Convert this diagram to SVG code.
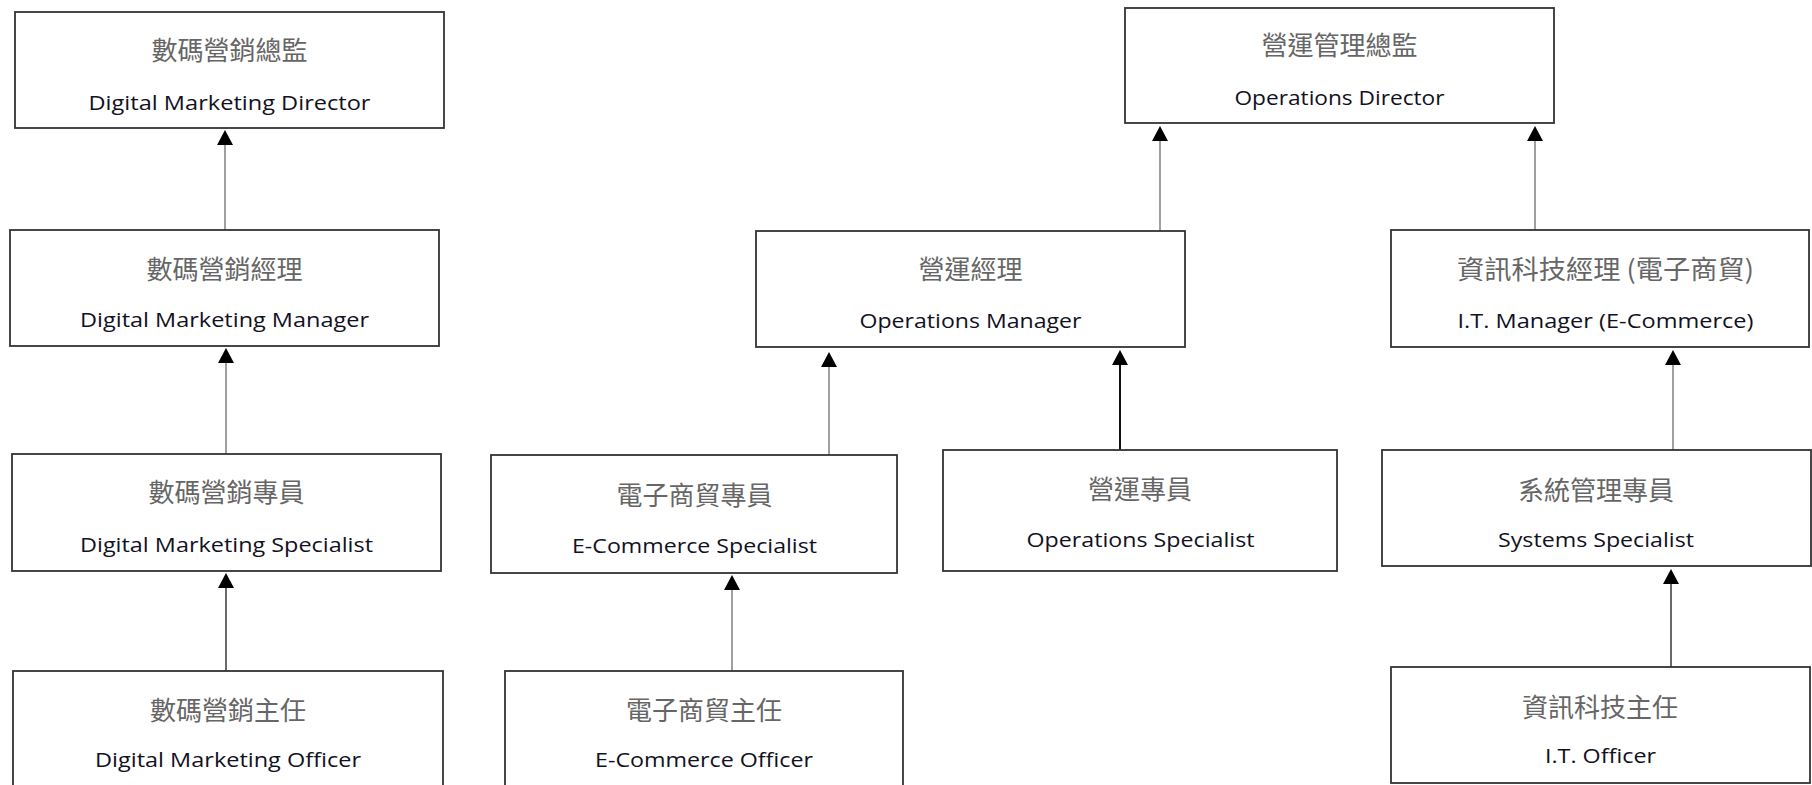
<svg xmlns="http://www.w3.org/2000/svg" width="1812" height="785" viewBox="0 0 1812 785">
<style>
.box{fill:#ffffff;stroke:#333333;stroke-width:1.8}
.zh{font-family:"Noto Sans CJK TC","Noto Sans CJK SC",sans-serif;font-size:26px;fill:#666666;text-anchor:middle;dominant-baseline:central}
.en{font-family:"Open Sans","Liberation Sans",sans-serif;font-size:20px;fill:#111122;text-anchor:middle}
.c{fill:none;stroke-width:1.6}
.g{stroke:#888888}
.d{stroke:#444444}
.k{stroke:#111111;stroke-width:2}
</style>
<defs>
<marker id="ah" markerUnits="userSpaceOnUse" markerWidth="16" markerHeight="16" viewBox="0 0 15 16" refX="0" refY="8" orient="auto">
<path d="M0,0 L15,8 L0,16 z" fill="#000000"/>
</marker>
</defs>
<rect width="1812" height="785" fill="#ffffff"/>
<g id="connectors">
<line class="c g" x1="225" y1="230" x2="225" y2="145" marker-end="url(#ah)"/>
<line class="c g" x1="226" y1="454" x2="226" y2="363" marker-end="url(#ah)"/>
<line class="c d" x1="226" y1="671" x2="226" y2="588" marker-end="url(#ah)"/>
<line class="c g" x1="1160" y1="231" x2="1160" y2="141" marker-end="url(#ah)"/>
<line class="c g" x1="1535" y1="230" x2="1535" y2="141" marker-end="url(#ah)"/>
<line class="c g" x1="829" y1="455" x2="829" y2="367" marker-end="url(#ah)"/>
<line class="c k" x1="1120" y1="450" x2="1120" y2="365" marker-end="url(#ah)"/>
<line class="c g" x1="732" y1="671" x2="732" y2="590" marker-end="url(#ah)"/>
<line class="c g" x1="1673" y1="450" x2="1673" y2="365" marker-end="url(#ah)"/>
<line class="c d" x1="1671" y1="667" x2="1671" y2="584" marker-end="url(#ah)"/>
</g>
<g id="dm_director">
<rect class="box" x="15" y="12" width="429" height="116"/>
<text class="zh" x="229.5" y="48">數碼營銷總監</text>
<text class="en" x="229.5" y="110" textLength="282" lengthAdjust="spacingAndGlyphs">Digital Marketing Director</text>
</g>
<g id="dm_manager">
<rect class="box" x="10" y="230" width="429" height="116"/>
<text class="zh" x="224.5" y="267">數碼營銷經理</text>
<text class="en" x="224.5" y="327" textLength="289" lengthAdjust="spacingAndGlyphs">Digital Marketing Manager</text>
</g>
<g id="dm_specialist">
<rect class="box" x="12" y="454" width="429" height="117"/>
<text class="zh" x="226.5" y="490">數碼營銷專員</text>
<text class="en" x="226.5" y="552" textLength="293" lengthAdjust="spacingAndGlyphs">Digital Marketing Specialist</text>
</g>
<g id="dm_officer">
<rect class="box" x="13" y="671" width="430" height="130"/>
<text class="zh" x="228" y="708">數碼營銷主任</text>
<text class="en" x="228" y="767" textLength="266" lengthAdjust="spacingAndGlyphs">Digital Marketing Officer</text>
</g>
<g id="ops_director">
<rect class="box" x="1125" y="8" width="429" height="115"/>
<text class="zh" x="1339.5" y="43">營運管理總監</text>
<text class="en" x="1339.5" y="105" textLength="210" lengthAdjust="spacingAndGlyphs">Operations Director</text>
</g>
<g id="ops_manager">
<rect class="box" x="756" y="231" width="429" height="116"/>
<text class="zh" x="970.5" y="267">營運經理</text>
<text class="en" x="970.5" y="328" textLength="222" lengthAdjust="spacingAndGlyphs">Operations Manager</text>
</g>
<g id="it_manager">
<rect class="box" x="1391" y="230" width="418" height="117"/>
<text class="zh" x="1605.5" y="267" textLength="297" lengthAdjust="spacingAndGlyphs">資訊科技經理 (電子商貿)</text>
<text class="en" x="1605.5" y="328" textLength="296" lengthAdjust="spacingAndGlyphs">I.T. Manager (E-Commerce)</text>
</g>
<g id="ecom_specialist">
<rect class="box" x="491" y="455" width="406" height="118"/>
<text class="zh" x="694.5" y="493">電子商貿專員</text>
<text class="en" x="694.5" y="553" textLength="245" lengthAdjust="spacingAndGlyphs">E-Commerce Specialist</text>
</g>
<g id="ops_specialist">
<rect class="box" x="943" y="450" width="394" height="121"/>
<text class="zh" x="1140" y="487">營運專員</text>
<text class="en" x="1140.5" y="547" textLength="228" lengthAdjust="spacingAndGlyphs">Operations Specialist</text>
</g>
<g id="sys_specialist">
<rect class="box" x="1382" y="450" width="429" height="116"/>
<text class="zh" x="1596" y="488">系統管理專員</text>
<text class="en" x="1596" y="547" textLength="196" lengthAdjust="spacingAndGlyphs">Systems Specialist</text>
</g>
<g id="ecom_officer">
<rect class="box" x="505" y="671" width="398" height="130"/>
<text class="zh" x="704" y="708">電子商貿主任</text>
<text class="en" x="704" y="767" textLength="218" lengthAdjust="spacingAndGlyphs">E-Commerce Officer</text>
</g>
<g id="it_officer">
<rect class="box" x="1391" y="667" width="419" height="116"/>
<text class="zh" x="1600" y="705">資訊科技主任</text>
<text class="en" x="1600.5" y="763" textLength="111" lengthAdjust="spacingAndGlyphs">I.T. Officer</text>
</g>
</svg>
